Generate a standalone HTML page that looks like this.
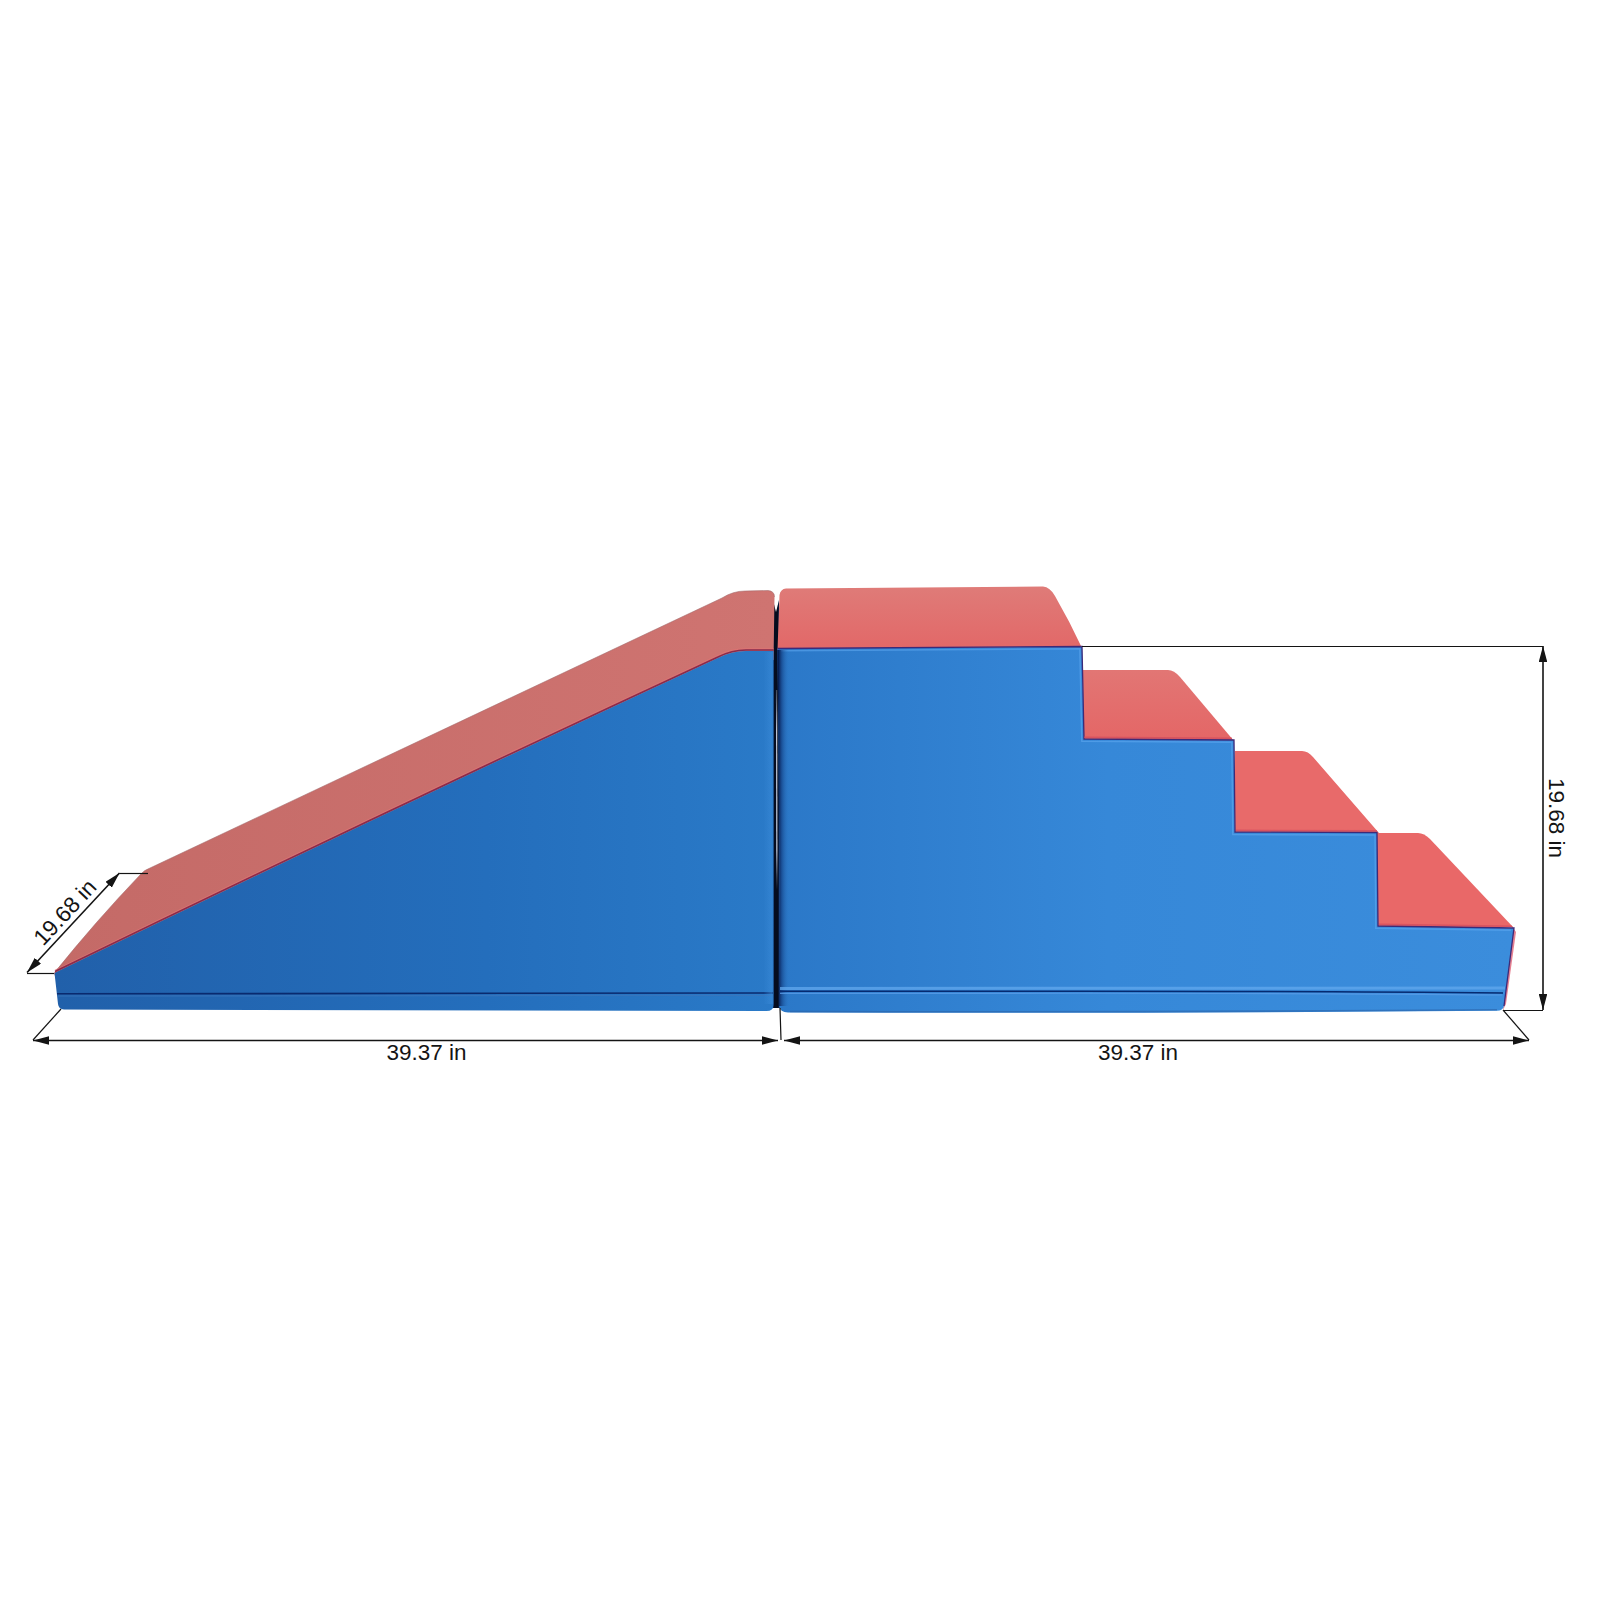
<!DOCTYPE html>
<html><head><meta charset="utf-8">
<style>
html,body{margin:0;padding:0;background:#fff;}
body{width:1600px;height:1600px;overflow:hidden;}
svg{display:block;}
text{font-family:"Liberation Sans",sans-serif;fill:#141414;}
</style></head>
<body>
<svg width="1600" height="1600" viewBox="0 0 1600 1600">
<defs>
  <marker id="ah" viewBox="0 0 16 8.6" refX="16" refY="4.3" markerWidth="16" markerHeight="8.6" markerUnits="userSpaceOnUse" orient="auto-start-reverse">
    <path d="M0,0 L16,4.3 L0,8.6 Z" fill="#141414"/>
  </marker>
  <linearGradient id="gBL" gradientUnits="userSpaceOnUse" x1="54" y1="0" x2="775" y2="0">
    <stop offset="0" stop-color="#2160aa"/>
    <stop offset="0.6" stop-color="#246ebc"/>
    <stop offset="1" stop-color="#2a7ac8"/>
  </linearGradient>
  <linearGradient id="gBR" gradientUnits="userSpaceOnUse" x1="777" y1="0" x2="1513" y2="0">
    <stop offset="0" stop-color="#2b78c8"/>
    <stop offset="0.45" stop-color="#3688d8"/>
    <stop offset="1" stop-color="#3b8ddc"/>
  </linearGradient>
  <linearGradient id="gRL" gradientUnits="userSpaceOnUse" x1="54" y1="0" x2="775" y2="0">
    <stop offset="0" stop-color="#c46a67"/>
    <stop offset="1" stop-color="#cf7471"/>
  </linearGradient>
  <linearGradient id="gGap" gradientUnits="userSpaceOnUse" x1="772" y1="0" x2="780" y2="0">
    <stop offset="0" stop-color="#0c2a66"/>
    <stop offset="0.3" stop-color="#050c20"/>
    <stop offset="0.7" stop-color="#050c1c"/>
    <stop offset="1" stop-color="#0a2a6a"/>
  </linearGradient>
  <linearGradient id="gLine" gradientUnits="userSpaceOnUse" x1="0" y1="690" x2="0" y2="890">
    <stop offset="0" stop-color="#cdd6ea" stop-opacity="0.3"/>
    <stop offset="0.2" stop-color="#cdd6ea" stop-opacity="0.9"/>
    <stop offset="0.8" stop-color="#cdd6ea" stop-opacity="0.9"/>
    <stop offset="1" stop-color="#cdd6ea" stop-opacity="0"/>
  </linearGradient>
  <linearGradient id="gHiL" gradientUnits="userSpaceOnUse" x1="763.5" y1="0" x2="773.5" y2="0">
    <stop offset="0" stop-color="#3a8ad8" stop-opacity="0"/>
    <stop offset="0.8" stop-color="#3a8ad8" stop-opacity="0.55"/>
    <stop offset="1" stop-color="#3a8ad8" stop-opacity="0.2"/>
  </linearGradient>
  <linearGradient id="gShR" gradientUnits="userSpaceOnUse" x1="778" y1="0" x2="789" y2="0">
    <stop offset="0" stop-color="#021040" stop-opacity="0.95"/>
    <stop offset="0.35" stop-color="#10387a" stop-opacity="0.6"/>
    <stop offset="1" stop-color="#2a74c0" stop-opacity="0"/>
  </linearGradient>
  <linearGradient id="gR1" gradientUnits="userSpaceOnUse" x1="0" y1="587" x2="0" y2="648">
    <stop offset="0" stop-color="#df7b78"/>
    <stop offset="1" stop-color="#e26868"/>
  </linearGradient>
  <linearGradient id="gR2" gradientUnits="userSpaceOnUse" x1="0" y1="670" x2="0" y2="741">
    <stop offset="0" stop-color="#e27674"/>
    <stop offset="1" stop-color="#e46666"/>
  </linearGradient>
  <filter id="blur1" x="-50%" y="-5%" width="200%" height="110%"><feGaussianBlur stdDeviation="0.7"/></filter>
</defs>
<rect width="1600" height="1600" fill="#fff"/>

<!-- gap between blocks -->
<path d="M773,600 L776,612 L779,600 L780,1008 L772,1008 Z" fill="url(#gGap)"/>
<path d="M776.6,690 L776.9,890" stroke="url(#gLine)" stroke-width="1.3"/>

<!-- LEFT RAMP -->
<!-- red top face -->
<path d="M54,973 Q96,921 140,875 Q144,870 150,868 L722,598 Q733,591 745,591 L768,590.5 Q774.5,591 774.5,597 L773.5,660 L720,670 L58,985 Z" fill="url(#gRL)"/>
<path d="M55,972 Q96,921 140,875 Q144,870 150,868 L722,598 Q733,591 745,591 L768,590.5 Q774.5,591 774.5,597" stroke="#a0686a" stroke-width="1" fill="none" opacity="0.55"/>
<!-- red piping along boundary -->
<path d="M55,970.2 Q386,809.5 717,655.7 Q731,648.7 746,648.7 L773.5,648.7" stroke="#e07474" stroke-width="1.2" fill="none" opacity="0.7"/>
<path d="M55,971.5 Q386,811 718,657 Q732,650 746,650 L773.5,650" stroke="#8a2a4c" stroke-width="1.7" fill="none"/>
<!-- blue front face -->
<path d="M54.5,973 Q386,812 718,658 Q732,651 746,651 L773.5,651 L773.5,1005 Q773.5,1011 766.5,1011 L64,1009.5 Q58.5,1009 58,1004 Z" fill="url(#gBL)"/>
<!-- seam -->
<path d="M57,993.8 L773,993" stroke="#0a2a6e" stroke-width="1.6" fill="none"/>
<path d="M58,996 L773,995.5" stroke="#3a76bc" stroke-width="1.2" fill="none" opacity="0.8"/>

<!-- RIGHT STEPS -->
<!-- red tops -->
<path d="M777.5,650 L779.5,595 Q780.5,589 786,588.5 L1043,586.5 Q1050,587 1055,596 Q1070,622 1082,648 Z" fill="url(#gR1)"/>
<path d="M1083,740 L1083,670 L1168,670 Q1174,670 1180,677 L1234,741 Z" fill="url(#gR2)"/>
<path d="M1235,833 L1235,751 L1302,751 Q1308,751 1313,757 L1379,833 Z" fill="#e86a6a"/>
<path d="M1377,927 L1377,833 L1418,833 Q1424,833 1430,839 L1513,927 Z" fill="#e96868"/>
<!-- red right sliver -->
<path d="M1512,926 L1516,932 L1506,1004 L1503,1010 Z" fill="#d84a62" opacity="0.7"/>
<!-- blue front face -->
<path d="M777.5,648.5 L1082,646.5 L1084,739 L1234,740 L1235,832 L1377,832.5 L1378,926 L1514,928 L1504,1006 Q1503,1010.8 1497,1010.8 Q1150,1013.5 788,1012.5 Q780,1012 779,1006 Q780,820 777.5,660 Z" fill="url(#gBR)"/>
<path d="M777.5,648.5 L1082,646.5 L1084,739 L1234,740 L1235,832 L1377,832.5 L1378,926 L1514,928 L1504,1006" stroke="#3d2a78" stroke-width="1.3" fill="none"/>
<path d="M781,650.8 L1079.8,648.8 L1081.8,741.3 L1231.8,742.3 L1232.8,834.6 L1375,835 L1375.8,928.3 L1511,930.3" stroke="#62acf2" stroke-width="1.4" fill="none" opacity="0.55"/>
<path d="M1084,737.3 L1232,738.3 M1236,830.3 L1377,830.8 M1379,924.3 L1512,926.3" stroke="#d24a5c" stroke-width="1.4" fill="none" opacity="0.7"/>
<rect x="763.5" y="652" width="10" height="352" fill="url(#gHiL)"/>
<path d="M777.5,650 L790,650 L791,1006 L779,1006 Q780,820 777.5,660 Z" fill="url(#gShR)"/>
<!-- seam -->
<path d="M780,988.5 L1505,988" stroke="#62a8ee" stroke-width="3" fill="none" opacity="0.75"/>
<path d="M780,991.3 L1000,991.3 Q1300,991 1503,993" stroke="#062a70" stroke-width="1.5" fill="none"/>
<path d="M780,993.3 L1000,993.3 Q1300,993 1502,995" stroke="#5a9ee8" stroke-width="1.2" fill="none" opacity="0.8"/>
<path d="M790,1011.5 Q1150,1012.5 1497,1009.8" stroke="#2a62a8" stroke-width="1.6" fill="none" opacity="0.6"/>

<!-- DIMENSIONS -->
<g stroke="#141414" fill="none">
  <!-- horizontal bottom -->
  <line x1="33" y1="1040.5" x2="778" y2="1040.5" stroke-width="1.6" marker-start="url(#ah)" marker-end="url(#ah)"/>
  <line x1="784" y1="1040.5" x2="1529" y2="1040.5" stroke-width="1.6" marker-start="url(#ah)" marker-end="url(#ah)"/>
  <line x1="61" y1="1009" x2="33" y2="1040" stroke-width="1.2"/>
  <line x1="780" y1="1008" x2="781" y2="1040" stroke-width="1.2"/>
  <line x1="1503" y1="1010" x2="1529" y2="1040" stroke-width="1.2"/>
  <!-- vertical right -->
  <line x1="1543" y1="646" x2="1543" y2="1010" stroke-width="1.6" marker-start="url(#ah)" marker-end="url(#ah)"/>
  <line x1="1082" y1="646.5" x2="1543" y2="646.5" stroke-width="1.2"/>
  <line x1="1503" y1="1010.5" x2="1543" y2="1010.5" stroke-width="1.2"/>
  <!-- diagonal left -->
  <line x1="27" y1="972.5" x2="119.5" y2="873" stroke-width="1.6" marker-start="url(#ah)" marker-end="url(#ah)"/>
  <line x1="119.5" y1="873.5" x2="148" y2="873.5" stroke-width="1.2"/>
  <line x1="27" y1="973.5" x2="54" y2="973.5" stroke-width="1.2"/>
</g>
<text x="426.5" y="1060" font-size="22.5" text-anchor="middle">39.37 in</text>
<text x="1138" y="1060" font-size="22.5" text-anchor="middle">39.37 in</text>
<text x="0" y="0" font-size="22.5" text-anchor="middle" transform="translate(1549,818) rotate(90)">19.68 in</text>
<text x="0" y="0" font-size="22.5" text-anchor="middle" transform="translate(70.5,917.5) rotate(-47)">19.68 in</text>
</svg>
</body></html>
